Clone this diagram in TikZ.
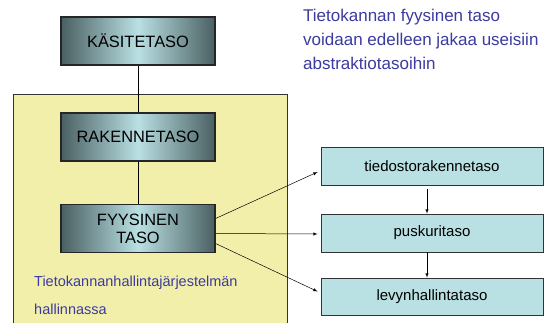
\documentclass[tikz,border=0pt]{standalone}
\usepackage{fontspec}
\setmainfont{Liberation Sans}
\usetikzlibrary{calc}
\definecolor{kelta}{HTML}{F2EFAA}
\definecolor{syaani}{HTML}{B9E0E3}
\definecolor{tumma}{HTML}{4A6062}
\definecolor{sini}{HTML}{3B3BA0}

\begin{document}
\begin{tikzpicture}[x=1pt,y=-1pt,
  taso/.style={draw=black!85, line width=1.2pt, left color=tumma, right color=tumma,
    middle color=syaani, minimum width=154pt, minimum height=48pt, inner sep=0pt,
    align=center, font=\fontsize{16.4}{19}\selectfont},
  alataso/.style={draw=black!80, line width=0.8pt, fill=syaani, minimum width=222pt,
    minimum height=38pt, inner sep=0pt, font=\fontsize{15}{18}\selectfont},
  nuoli/.style={-latex, line width=0.5pt}]
\clip (0,0) rectangle (552,322);
\fill[white] (0,0) rectangle (552,322);

%% DBMS area
\draw[fill=kelta, draw=black!80, line width=0.8pt] (13,94) rectangle (287,330);

%% levels
\node[taso] (kasite) at (138,41) {KÄSITETASO};
\node[taso] (rakenne) at (138,137) {RAKENNETASO};
\node[taso] (fyysinen) at (138,228.5) {FYYSINEN\\[-1pt]TASO};
\draw[line width=0.6pt] (kasite.south) -- (rakenne.north);
\draw[line width=0.6pt] (rakenne.south) -- (fyysinen.north);

%% physical sublevels
\node[alataso] (tiedosto) at (432,166) {tiedostorakennetaso};
\node[alataso] (puskuri) at (432,233) {puskuritaso};
\node[alataso, minimum height=37pt] (levy) at (432,296.5) {levynhallintataso};

\draw[nuoli] ($(fyysinen.east)+(0,-10)$) -- ($(tiedosto.west)+(-3,6)$);
\draw[nuoli] ($(fyysinen.east)+(0,5)$) -- ($(puskuri.west)+(-3,1)$);
\draw[nuoli] ($(fyysinen.east)+(0,15)$) -- ($(levy.west)+(-3,-5)$);
\draw[nuoli, shorten <=4pt] ($(tiedosto.south)+(-5,0)$) -- ($(puskuri.north)+(-5,0)$);
\draw[nuoli] ($(puskuri.south)+(-5,0)$) -- ($(levy.north)+(-5,0)$);

%% texts
\node[anchor=north west, inner sep=0pt, align=left, text=sini,
  font=\fontsize{17}{24}\selectfont] (huom) at (303,9)
  {Tietokannan fyysinen taso\\voidaan edelleen jakaa useisiin\\abstraktiotasoihin};
\node[anchor=north west, inner sep=0pt, align=left, text=sini,
  font=\fontsize{14.5}{27.5}\selectfont] (hallinta) at (34,276)
  {Tietokannanhallintajärjestelmän\\hallinnassa};
\end{tikzpicture}
\end{document}
